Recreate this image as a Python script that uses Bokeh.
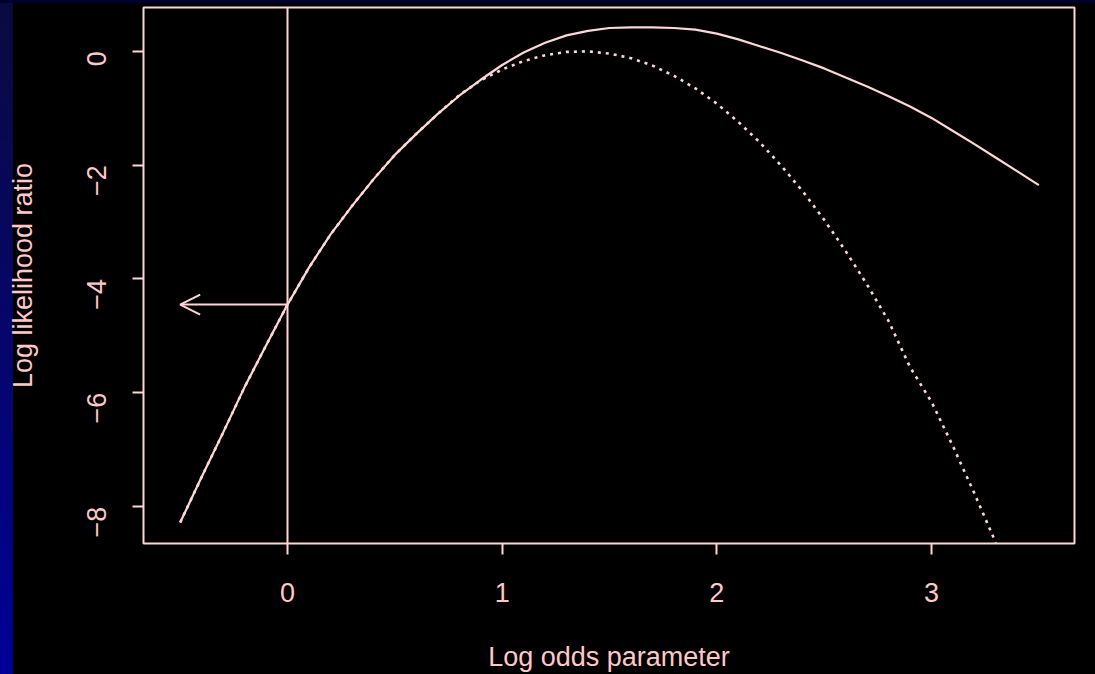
import math
from bokeh.plotting import figure
from bokeh.models import Range1d, FixedTicker, Span, Arrow, OpenHead
from bokeh.embed import file_html
from bokeh.resources import INLINE

# ---- data ----
solid_x = [-0.5, -0.4, -0.3, -0.2, -0.1, 0.0, 0.1, 0.2, 0.3, 0.4, 0.5, 0.6, 0.7, 0.8, 0.9,
           1.0, 1.1, 1.2, 1.3, 1.4, 1.5, 1.6, 1.7, 1.8, 1.9, 2.0, 2.1, 2.2, 2.3, 2.4,
           2.5, 2.6, 2.7, 2.8, 2.9, 3.0, 3.1, 3.2, 3.3, 3.4, 3.5]
solid_y = [-8.28, -7.48, -6.70, -5.90, -5.17, -4.45, -3.80, -3.22, -2.72, -2.25, -1.82, -1.45, -1.10, -0.78, -0.50,
           -0.24, -0.02, 0.15, 0.28, 0.36, 0.41, 0.42, 0.42, 0.41, 0.38, 0.31, 0.21, 0.09, -0.03, -0.16,
           -0.30, -0.46, -0.62, -0.79, -0.97, -1.17, -1.40, -1.63, -1.87, -2.11, -2.35]

dotted_x = [-0.5, -0.4, -0.3, -0.2, -0.1, 0.0, 0.1, 0.2, 0.3, 0.4, 0.5, 0.6, 0.7, 0.8, 0.9,
            1.0, 1.1, 1.2, 1.3, 1.4, 1.5, 1.6, 1.7, 1.8, 1.9, 2.0, 2.1, 2.2, 2.3, 2.4,
            2.5, 2.6, 2.7, 2.8, 2.9, 3.0, 3.1, 3.2, 3.3]
dotted_y = [-8.28, -7.48, -6.70, -5.90, -5.17, -4.45, -3.80, -3.22, -2.72, -2.25, -1.82, -1.45, -1.10, -0.77, -0.51,
            -0.32, -0.17, -0.07, -0.01, 0.00, -0.04, -0.12, -0.25, -0.43, -0.65, -0.92, -1.24, -1.60, -2.01, -2.46,
            -2.96, -3.51, -4.10, -4.74, -5.55, -6.16, -6.94, -7.77, -8.64]

vline_x = 0.0
arrow_y = -4.45
arrow_x_start = 0.0
arrow_x_end = -0.5

x_ticks = [0, 1, 2, 3]
y_ticks = [0, -2, -4, -6, -8]

x_label = "Log odds parameter"
y_label = "Log likelihood ratio"

# ---- style ----
LINE = "#ffd6d6"
TEXT = "#ffc8c8"
FONT = "Liberation Sans"

p = figure(width=1095, height=674, output_backend="svg", toolbar_location=None,
           x_range=Range1d(-0.6708, 3.666), y_range=Range1d(-8.648, 0.770),
           min_border_left=143, min_border_right=21, min_border_top=7, min_border_bottom=129)

p.background_fill_color = "black"
p.border_fill_color = None
p.outline_line_color = LINE
p.outline_line_width = 2
p.xgrid.visible = False
p.ygrid.visible = False

p.line(solid_x, solid_y, line_color=LINE, line_width=2.2)
p.line(dotted_x, dotted_y, line_color=LINE, line_width=2.6, line_dash="3 5")

p.add_layout(Span(location=vline_x, dimension="height", line_color=LINE, line_width=2))
p.add_layout(Arrow(end=OpenHead(size=20, line_color=LINE, line_width=2),
                   x_start=arrow_x_start, y_start=arrow_y, x_end=arrow_x_end, y_end=arrow_y,
                   line_color=LINE, line_width=2))

for ax in (p.xaxis[0], p.yaxis[0]):
    ax.axis_line_color = None
    ax.major_tick_line_color = LINE
    ax.major_tick_line_width = 2
    ax.major_tick_out = 11
    ax.major_tick_in = 0
    ax.minor_tick_line_color = None
    ax.major_label_text_color = TEXT
    ax.major_label_text_font = FONT
    ax.major_label_text_font_size = "27px"
    ax.axis_label_text_color = TEXT
    ax.axis_label_text_font = FONT
    ax.axis_label_text_font_size = "27px"
    ax.axis_label_text_font_style = "normal"

p.xaxis.ticker = FixedTicker(ticks=x_ticks)
p.yaxis.ticker = FixedTicker(ticks=y_ticks)
p.xaxis.axis_label = x_label
p.yaxis.axis_label = y_label
p.xaxis.major_label_standoff = 28
p.xaxis.axis_label_standoff = 37
p.yaxis.major_label_orientation = math.pi / 2
p.yaxis.major_label_standoff = 36
p.yaxis.axis_label_standoff = 37

html = file_html(p, INLINE)
style = ("<style>html{min-height:100%;background:"
         "linear-gradient(to bottom,#00002e 0px,#00002e 3px,transparent 3px) no-repeat,"
         "linear-gradient(to bottom,#0a0a40,#000098) 0 0/13px 100% no-repeat,#000;}"
         "body{background:transparent;}</style>")
html = html.replace("<head>", "<head>" + style, 1)
open("out.html", "w").write(html)
